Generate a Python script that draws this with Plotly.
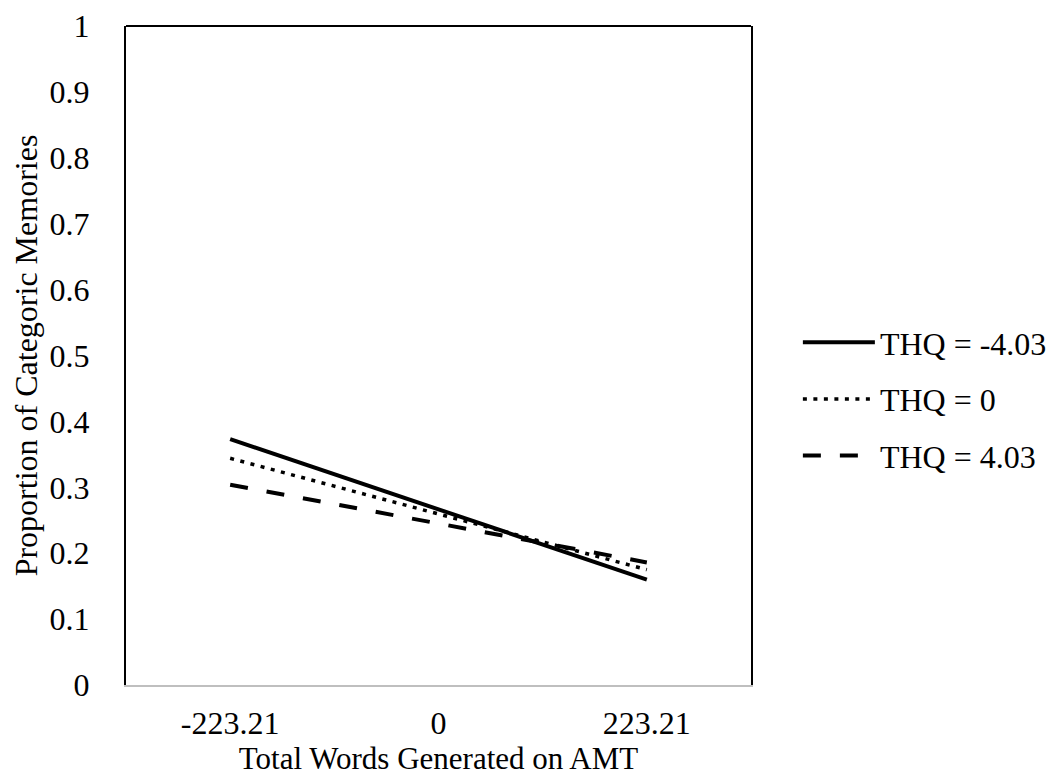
import plotly.graph_objects as go

categories = ["-223.21", "0", "223.21"]
thq_neg = [0.373, 0.2665, 0.160]
thq_zero = [0.344, 0.2595, 0.175]
thq_pos = [0.304, 0.245, 0.186]
series_names = ["THQ = -4.03", "THQ = 0", "THQ = 4.03"]
y_ticks = [0, 0.1, 0.2, 0.3, 0.4, 0.5, 0.6, 0.7, 0.8, 0.9, 1]
y_tick_text = ["0", "0.1", "0.2", "0.3", "0.4", "0.5", "0.6", "0.7", "0.8", "0.9", "1"]

font_family = "Liberation Serif, Times New Roman, serif"
FS = 32

fig = go.Figure()
fig.add_trace(go.Scatter(x=categories, y=thq_neg, mode="lines", name=series_names[0],
                         legendgroup="a",
                         line=dict(color="black", width=4)))
fig.add_trace(go.Scatter(x=categories, y=thq_zero, mode="lines", name=series_names[1],
                         legendgroup="b",
                         line=dict(color="black", width=3.5, dash="4px,6.5px")))
fig.add_trace(go.Scatter(x=categories, y=thq_pos, mode="lines", name=series_names[2],
                         legendgroup="c",
                         line=dict(color="black", width=4, dash="18px,19px")))

fig.update_layout(
    width=1056, height=776,
    margin=dict(l=118, r=295, t=18, b=99),
    paper_bgcolor="white", plot_bgcolor="white",
    font=dict(family=font_family, size=FS, color="black"),
    showlegend=True,
    legend=dict(x=1.075, xanchor="left", y=0.434, yanchor="middle",
                font=dict(family=font_family, size=FS, color="black"),
                tracegroupgap=12, itemwidth=72),
    xaxis=dict(
        type="category", categoryorder="array", categoryarray=categories,
        range=[-0.5, 2.5], automargin=False,
        showgrid=False, zeroline=False,
        showline=True, linecolor="#bfbfbf", linewidth=2,
        ticks="", ticklabelstandoff=9,
        tickfont=dict(family=font_family, size=FS, color="black"),
        title=dict(text="Total Words Generated on AMT", standoff=2,
                   font=dict(family=font_family, size=31, color="black")),
    ),
    yaxis=dict(
        range=[0, 1], tickvals=y_ticks, ticktext=y_tick_text, automargin=False,
        showgrid=False, zeroline=False,
        showline=True, linecolor="black", linewidth=2, mirror=True,
        ticks="", ticklabelstandoff=28,
        tickfont=dict(family=font_family, size=FS, color="black"),
        title=dict(text="Proportion of Categoric Memories", standoff=2,
                   font=dict(family=font_family, size=FS, color="black")),
    ),
    shapes=[dict(type="line", xref="paper", yref="paper", x0=0, x1=1, y0=1, y1=1,
                 line=dict(color="black", width=2))],
)

fig.write_html("out.html")
